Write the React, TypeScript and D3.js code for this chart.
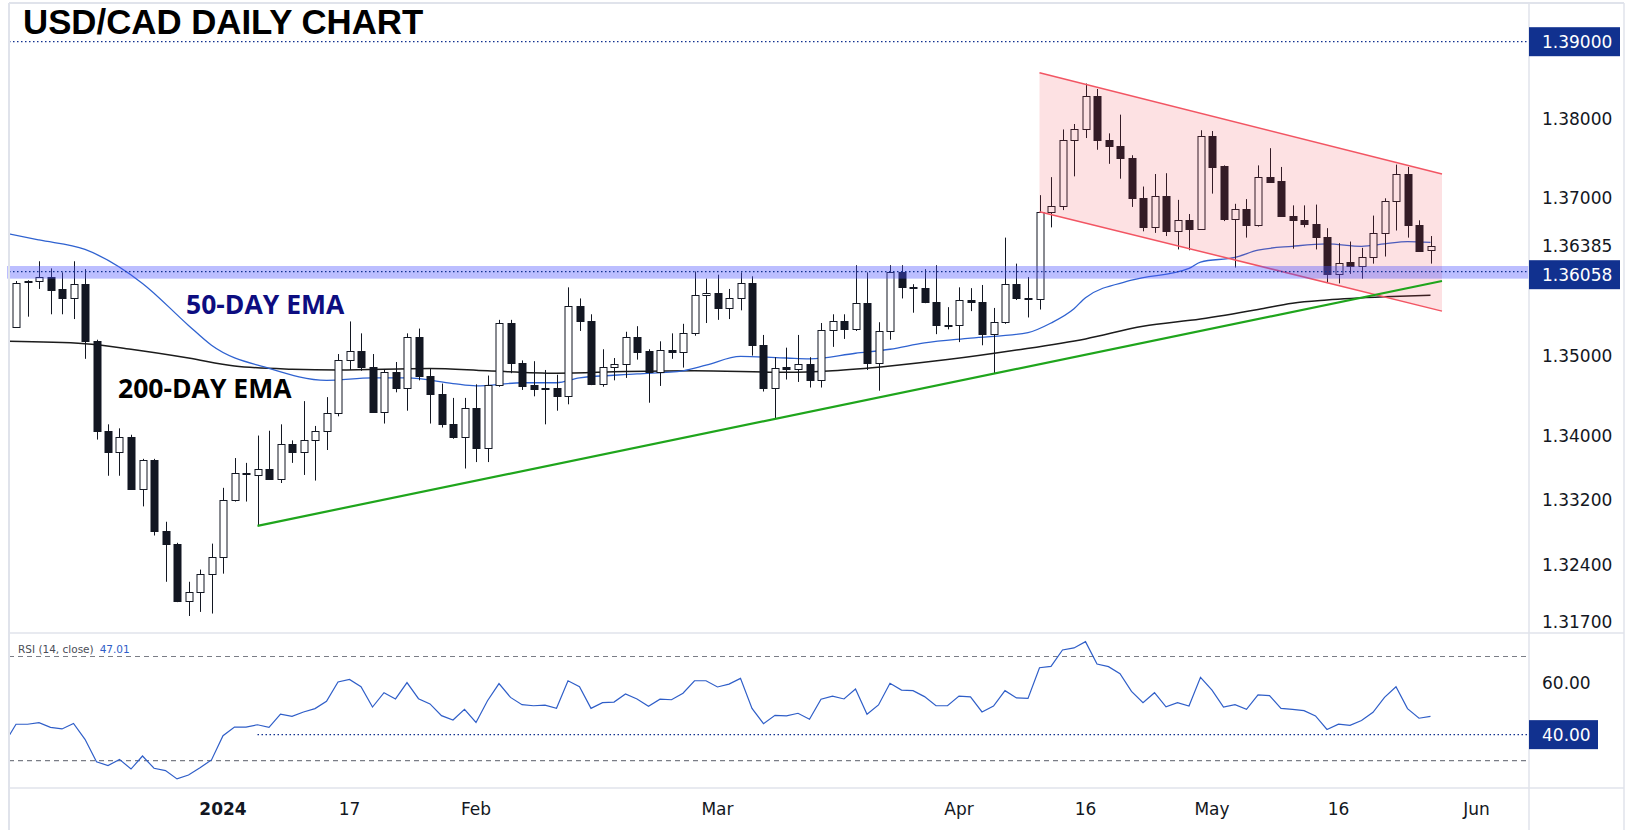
import React from 'react';
import * as d3 from 'd3';

// ---- values ----
const opens = [
  1.3536, 1.3593, 1.3594, 1.3599, 1.3584, 1.3573, 1.3590, 1.3518, 1.3406, 1.3380,
  1.3398, 1.3333, 1.3370, 1.3282, 1.3266, 1.3195, 1.3207, 1.3228, 1.3249, 1.3320,
  1.3354, 1.3351, 1.3359, 1.3346, 1.3390, 1.3380, 1.3394, 1.3406, 1.3428, 1.3495,
  1.3506, 1.3486, 1.3430, 1.3479, 1.3460, 1.3523, 1.3474, 1.3452, 1.3414, 1.3398,
  1.3434, 1.3385, 1.3463, 1.3541, 1.3491, 1.3463, 1.3458, 1.3460, 1.3450, 1.3563,
  1.3543, 1.3464, 1.3486, 1.3490, 1.3523, 1.3506, 1.3480, 1.3507, 1.3505, 1.3528,
  1.3576, 1.3579, 1.3560, 1.3573, 1.3592, 1.3513, 1.3459, 1.3486, 1.3483, 1.3490,
  1.3470, 1.3532, 1.3543, 1.3534, 1.3566, 1.3491, 1.3531, 1.3605, 1.3586, 1.3585,
  1.3567, 1.3539, 1.3538, 1.3570, 1.3567, 1.3527, 1.3542, 1.3590, 1.3572, 1.3571,
  1.3682, 1.3689, 1.3773, 1.3788, 1.3830, 1.3773, 1.3766, 1.3750, 1.3700, 1.3663,
  1.3702, 1.3657, 1.3671, 1.3660, 1.3779, 1.3740, 1.3673, 1.3686, 1.3665, 1.3726,
  1.3721, 1.3677, 1.3672, 1.3666, 1.3650, 1.3603, 1.3618, 1.3613, 1.3625, 1.3655,
  1.3695, 1.3730, 1.3665, 1.3633,
];
const highs = [
  1.3594, 1.3595, 1.3619, 1.3610, 1.3605, 1.3619, 1.3609, 1.3520, 1.3414, 1.3409,
  1.3401, 1.3371, 1.3371, 1.3293, 1.3267, 1.3219, 1.3234, 1.3266, 1.3335, 1.3372,
  1.3366, 1.3400, 1.3406, 1.3414, 1.3394, 1.3443, 1.3412, 1.3448, 1.3502, 1.3543,
  1.3528, 1.3502, 1.3483, 1.3492, 1.3528, 1.3534, 1.3484, 1.3465, 1.3447, 1.3447,
  1.3464, 1.3475, 1.3545, 1.3545, 1.3494, 1.3493, 1.3482, 1.3476, 1.3586, 1.3572,
  1.3552, 1.3508, 1.3497, 1.3530, 1.3537, 1.3508, 1.3518, 1.3528, 1.3540, 1.3606,
  1.3597, 1.3602, 1.3584, 1.3605, 1.3600, 1.3526, 1.3498, 1.3510, 1.3526, 1.3498,
  1.3541, 1.3552, 1.3552, 1.3614, 1.3605, 1.3542, 1.3614, 1.3614, 1.3590, 1.3609,
  1.3614, 1.3561, 1.3586, 1.3585, 1.3589, 1.3560, 1.3649, 1.3616, 1.3599, 1.3703,
  1.3726, 1.3787, 1.3794, 1.3846, 1.3839, 1.3782, 1.3806, 1.3754, 1.3714, 1.3730,
  1.3731, 1.3697, 1.3679, 1.3786, 1.3785, 1.3741, 1.3692, 1.3698, 1.3741, 1.3763,
  1.3739, 1.3690, 1.3690, 1.3691, 1.3661, 1.3642, 1.3644, 1.3636, 1.3677, 1.3699,
  1.3742, 1.3739, 1.3671, 1.3651,
];
const lows = [
  1.3535, 1.3549, 1.3584, 1.3552, 1.3552, 1.3546, 1.3496, 1.3395, 1.3350, 1.3350,
  1.3333, 1.3312, 1.3276, 1.3219, 1.3194, 1.3177, 1.3182, 1.3180, 1.3229, 1.3318,
  1.3318, 1.3288, 1.3345, 1.3341, 1.3366, 1.3351, 1.3344, 1.3382, 1.3424, 1.3482,
  1.3481, 1.3429, 1.3415, 1.3454, 1.3431, 1.3469, 1.3415, 1.3410, 1.3396, 1.3359,
  1.3367, 1.3367, 1.3461, 1.3478, 1.3457, 1.3449, 1.3414, 1.3431, 1.3439, 1.3531,
  1.3463, 1.3461, 1.3469, 1.3472, 1.3495, 1.3441, 1.3462, 1.3496, 1.3485, 1.3525,
  1.3541, 1.3545, 1.3546, 1.3557, 1.3500, 1.3455, 1.3421, 1.3470, 1.3467, 1.3460,
  1.3460, 1.3511, 1.3521, 1.3531, 1.3482, 1.3456, 1.3520, 1.3572, 1.3554, 1.3566,
  1.3527, 1.3533, 1.3517, 1.3556, 1.3513, 1.3478, 1.3540, 1.3570, 1.3548, 1.3558,
  1.3662, 1.3684, 1.3727, 1.3776, 1.3761, 1.3743, 1.3724, 1.3688, 1.3657, 1.3655,
  1.3651, 1.3634, 1.3633, 1.3659, 1.3705, 1.3670, 1.3611, 1.3649, 1.3663, 1.3720,
  1.3676, 1.3635, 1.3662, 1.3634, 1.3592, 1.3591, 1.3603, 1.3597, 1.3616, 1.3625,
  1.3658, 1.3649, 1.3631, 1.3616,
];
const closes = [
  1.3592, 1.3594, 1.3599, 1.3583, 1.3573, 1.3590, 1.3518, 1.3406, 1.3380, 1.3398,
  1.3333, 1.3370, 1.3282, 1.3266, 1.3195, 1.3207, 1.3228, 1.3249, 1.3320, 1.3353,
  1.3352, 1.3359, 1.3346, 1.3390, 1.3380, 1.3394, 1.3406, 1.3428, 1.3495, 1.3506,
  1.3486, 1.3430, 1.3479, 1.3460, 1.3523, 1.3474, 1.3452, 1.3414, 1.3398, 1.3434,
  1.3385, 1.3463, 1.3541, 1.3491, 1.3462, 1.3458, 1.3460, 1.3450, 1.3563, 1.3543,
  1.3464, 1.3486, 1.3490, 1.3523, 1.3505, 1.3480, 1.3507, 1.3505, 1.3528, 1.3576,
  1.3579, 1.3560, 1.3573, 1.3592, 1.3513, 1.3459, 1.3485, 1.3483, 1.3490, 1.3470,
  1.3532, 1.3543, 1.3534, 1.3566, 1.3491, 1.3531, 1.3605, 1.3586, 1.3585, 1.3567,
  1.3539, 1.3538, 1.3570, 1.3567, 1.3527, 1.3542, 1.3590, 1.3572, 1.3571, 1.3682,
  1.3689, 1.3773, 1.3788, 1.3830, 1.3773, 1.3766, 1.3750, 1.3700, 1.3663, 1.3702,
  1.3657, 1.3671, 1.3660, 1.3779, 1.3739, 1.3673, 1.3686, 1.3665, 1.3726, 1.3720,
  1.3677, 1.3672, 1.3666, 1.3650, 1.3603, 1.3617, 1.3613, 1.3625, 1.3655, 1.3695,
  1.3730, 1.3665, 1.3632, 1.36385,
];

// moving averages, read as [bar index, price]
const ema50: [number, number][] = [
  [-1, 1.3655], [2, 1.3646], [6, 1.3634], [11, 1.3591], [15, 1.3538], [17, 1.3513],
  [22, 1.3484], [27, 1.3469], [31, 1.3472], [34, 1.3472], [38, 1.3465], [40, 1.3462],
  [44, 1.3466], [47, 1.3466], [49, 1.3472], [54, 1.3477], [58, 1.3481], [60, 1.3488],
  [63, 1.3499], [67, 1.3497], [69, 1.3496], [73, 1.3503], [76, 1.3508], [79, 1.3516],
  [83, 1.3522], [88, 1.3529], [90, 1.3541], [92, 1.3559], [93, 1.3573], [97, 1.3595],
  [102, 1.3610], [103, 1.3618], [106, 1.3624], [108, 1.3633], [111, 1.3638], [114, 1.3641],
  [117, 1.3638], [119, 1.3641], [121, 1.3644], [123, 1.3643],
];
const ema200: [number, number][] = [
  [-1, 1.3518], [6, 1.3515], [10, 1.3508], [15, 1.3497], [19, 1.3487], [24, 1.3483],
  [28, 1.3482], [36, 1.3484], [41, 1.3481], [47, 1.3478], [53, 1.3480], [59, 1.3481],
  [67, 1.3479], [71, 1.3481], [76, 1.3487], [81, 1.3495], [87, 1.3507], [93, 1.3521],
  [98, 1.3537], [103, 1.3546], [108, 1.3558], [111, 1.3566], [114, 1.3570], [119, 1.3574],
  [123, 1.3576],
];

// RSI(14); the first value belongs to the bar just left of the first candle
const rsiValues = [
  36.7,
  44.0, 44.0, 44.6, 42.8, 42.2, 44.3, 38.2, 29.6, 28.1, 30.5,
  26.8, 31.8, 27.1, 26.2, 23.0, 24.5, 27.3, 30.3, 39.6, 42.9,
  42.9, 43.8, 42.8, 47.9, 47.0, 48.7, 50.0, 52.8, 60.2, 61.2,
  58.4, 50.6, 56.1, 53.7, 60.0, 53.8, 51.8, 47.3, 45.6, 49.7,
  44.7, 53.0, 59.6, 54.3, 51.5, 51.1, 51.3, 50.1, 60.7, 58.4,
  50.1, 52.3, 52.5, 55.6, 53.7, 50.9, 53.6, 53.4, 55.9, 60.7,
  60.7, 58.3, 59.4, 61.6, 50.1, 44.2, 47.4, 47.2, 48.2, 45.9,
  53.6, 54.8, 53.7, 57.5, 47.8, 51.4, 59.7, 57.1, 56.9, 54.6,
  51.1, 51.1, 54.8, 54.5, 48.7, 51.0, 56.9, 54.1, 53.9, 65.7,
  66.2, 72.5, 73.3, 75.7, 67.1, 66.1, 63.4, 56.6, 52.3, 56.1,
  50.7, 52.3, 51.0, 62.0, 57.1, 50.6, 51.5, 49.7, 55.3, 55.0,
  50.1, 49.7, 49.2, 47.2, 42.0, 44.0, 43.6, 45.4, 48.6, 54.3,
  58.4, 50.0, 46.3, 47.01,
];

const dateTicks = [
  { bar: 18, label: '2024', bold: true },
  { bar: 29, label: '17' },
  { bar: 40, label: 'Feb' },
  { bar: 61, label: 'Mar' },
  { bar: 82, label: 'Apr' },
  { bar: 93, label: '16' },
  { bar: 104, label: 'May' },
  { bar: 115, label: '16' },
  { bar: 127, label: 'Jun' },
];
const priceTicks = [1.38, 1.37, 1.35, 1.34, 1.332, 1.324, 1.317];
const lastClose = 1.36385;
const resistance = 1.39;
const support = 1.36058;
const supportBand = [1.3597, 1.3613];
const trendline: [number, number][] = [[21, 1.3288], [124, 1.3594]];
const channelTop: [number, number][] = [[89, 1.386], [124, 1.373]];
const channelBottom: [number, number][] = [[89, 1.3682], [124, 1.3556]];
const rsiGuides = [70, 30];
const rsiTick = 60;
const rsiLevel = 40;

// ---- layout ----
const W = 1634;
const H = 830;
const left = 9;
const right = 1529;
const top = 3;
const priceBottom = 633;
const rsiBottom = 788;
const axisRight = 1624;

const INK = '#131722';
const NAVY = '#11318f';
const axisFont = '"DejaVu Sans", sans-serif';
const boldFont = '"Open Sans", "Noto Sans", sans-serif';
const titleFont = '"Liberation Sans", Arial, sans-serif';

export default function App() {
  const x = d3.scaleLinear().domain([0, 123]).range([16, 1430.5]);
  const y = d3.scaleLog().domain([1.317, 1.39]).range([621.7, 41.7]);
  const ry = d3.scaleLinear().domain([30, 70]).range([760.7, 656.5]);
  const fmtPrice = d3.format('.5f');
  const fmtRsi = d3.format('.2f');

  const emaLine = d3
    .line<[number, number]>()
    .x((d) => x(d[0]))
    .y((d) => y(d[1]))
    .curve(d3.curveMonotoneX);

  const rsiLine = d3
    .line<number>()
    .x((_, i) => x(i - 1))
    .y((d) => ry(d));

  const chanPts = [
    [x(channelTop[0][0]), y(channelTop[0][1])],
    [x(channelTop[1][0]), y(channelTop[1][1])],
    [x(channelBottom[1][0]), y(channelBottom[1][1])],
    [x(channelBottom[0][0]), y(channelBottom[0][1])],
  ];

  const candles = opens.map((o, i) => {
    const c = closes[i];
    const cx = Math.round(x(i)) + 0.5;
    const up = c >= o;
    const yTop = Math.round(y(Math.max(o, c))) + 0.5;
    const yBot = Math.round(y(Math.min(o, c))) + 0.5;
    return (
      <g key={i}>
        <line x1={cx} x2={cx} y1={y(highs[i])} y2={y(lows[i])} stroke={INK} strokeWidth={1} />
        <rect
          x={cx - 3.5}
          y={yTop}
          width={7}
          height={Math.max(yBot - yTop, 1)}
          fill={up ? '#ffffff' : INK}
          stroke={INK}
          strokeWidth={1}
        />
      </g>
    );
  });

  const supportY = y(support);

  return (
    <svg
      width={W}
      height={H}
      style={{ position: 'absolute', left: 0, top: 0, background: '#fff' }}
    >
      <defs>
        <clipPath id="pricePane">
          <rect x={left} y={top} width={right - left} height={priceBottom - top} />
        </clipPath>
        <clipPath id="rsiPane">
          <rect x={left} y={priceBottom} width={right - left} height={rsiBottom - priceBottom} />
        </clipPath>
      </defs>

      {/* price pane */}
      <g clipPath="url(#pricePane)">
        <line
          x1={left}
          x2={right}
          y1={y(resistance)}
          y2={y(resistance)}
          stroke={NAVY}
          strokeWidth={1.2}
          strokeDasharray="1.5 2.5"
        />
        <path d={emaLine(ema200) || ''} fill="none" stroke="#1c1c1c" strokeWidth={1.5} />
        <path d={emaLine(ema50) || ''} fill="none" stroke="#2f62d0" strokeWidth={1.3} />
        {candles}
        <polygon
          points={chanPts.map((p) => p.join(',')).join(' ')}
          fill="rgba(242, 54, 69, 0.15)"
        />
        <line
          x1={chanPts[0][0]}
          y1={chanPts[0][1]}
          x2={chanPts[1][0]}
          y2={chanPts[1][1]}
          stroke="#f25563"
          strokeWidth={1.5}
        />
        <line
          x1={chanPts[3][0]}
          y1={chanPts[3][1]}
          x2={chanPts[2][0]}
          y2={chanPts[2][1]}
          stroke="#f25563"
          strokeWidth={1.5}
        />
        <line
          x1={x(trendline[0][0])}
          y1={y(trendline[0][1])}
          x2={x(trendline[1][0])}
          y2={y(trendline[1][1])}
          stroke="#1fa51c"
          strokeWidth={2.2}
        />
      </g>
      {/* support band spills just past the left frame */}
      <rect
        x={7}
        y={y(supportBand[1])}
        width={right - 7}
        height={y(supportBand[0]) - y(supportBand[1])}
        fill="rgba(80, 84, 255, 0.38)"
      />
      <line
        x1={left}
        x2={right}
        y1={supportY}
        y2={supportY}
        stroke={NAVY}
        strokeWidth={1.2}
        strokeDasharray="1.5 2.5"
      />

      {/* annotations */}
      <text x={23} y={33.5} fontFamily={titleFont} fontWeight={700} fontSize={34.8} fill="#000">
        USD/CAD DAILY CHART
      </text>
      <text x={186} y={314} fontFamily={boldFont} fontWeight={700} fontSize={26.5} fill="#0d0d80">
        50-DAY EMA
      </text>
      <text x={118} y={398} fontFamily={boldFont} fontWeight={700} fontSize={26.5} fill="#000">
        200-DAY EMA
      </text>

      {/* RSI pane */}
      <g clipPath="url(#rsiPane)">
        {rsiGuides.map((v) => (
          <line
            key={v}
            x1={left}
            x2={right}
            y1={ry(v)}
            y2={ry(v)}
            stroke="#7a7d86"
            strokeWidth={1.2}
            strokeDasharray="5 4"
          />
        ))}
        <line
          x1={x(trendline[0][0])}
          x2={right}
          y1={ry(rsiLevel)}
          y2={ry(rsiLevel)}
          stroke={NAVY}
          strokeWidth={1.2}
          strokeDasharray="1.5 2.5"
        />
        <path d={rsiLine(rsiValues) || ''} fill="none" stroke="#2f5ec8" strokeWidth={1.2} />
      </g>
      <text x={18} y={649} dominantBaseline="central" fontFamily={axisFont} fontSize={10.5} fill="#4a4d57">
        RSI (14, close)
        <tspan dx={6} fill="#2f5ec8">
          {fmtRsi(rsiValues[rsiValues.length - 1])}
        </tspan>
      </text>

      {/* frame */}
      <g fill="none" stroke="#e0e3eb">
        <line x1={left} x2={axisRight} y1={top} y2={top} strokeWidth={2} />
        <line x1={left} x2={left} y1={top} y2={H} strokeWidth={2} />
        <line x1={left} x2={axisRight} y1={priceBottom} y2={priceBottom} strokeWidth={1.5} />
        <line x1={left} x2={axisRight} y1={rsiBottom} y2={rsiBottom} strokeWidth={1.5} />
        <line x1={right} x2={right} y1={top} y2={H} strokeWidth={1.5} />
        <line x1={axisRight} x2={axisRight} y1={top} y2={H} strokeWidth={1.5} />
      </g>

      {/* price axis */}
      <g fontFamily={axisFont} fontSize={17} fill={INK}>
        {priceTicks.map((p) => (
          <text key={p} x={1542} y={y(p)} dominantBaseline="central">
            {fmtPrice(p)}
          </text>
        ))}
        <text x={1542} y={y(lastClose)} dominantBaseline="central">
          {fmtPrice(lastClose)}
        </text>
        <rect x={right} y={y(resistance) - 14.5} width={91} height={29} fill={NAVY} />
        <text x={1542} y={y(resistance)} dominantBaseline="central" fill="#fff">
          {fmtPrice(resistance)}
        </text>
        <rect x={right} y={supportY + 3 - 14.5} width={91} height={29} fill={NAVY} />
        <text x={1542} y={supportY + 3} dominantBaseline="central" fill="#fff">
          {fmtPrice(support)}
        </text>
      </g>

      {/* RSI axis */}
      <g fontFamily={axisFont} fontSize={17} fill={INK}>
        <text x={1542} y={ry(rsiTick)} dominantBaseline="central">
          {fmtRsi(rsiTick)}
        </text>
        <rect x={right} y={ry(rsiLevel) - 14.5} width={69} height={29} fill={NAVY} />
        <text x={1542} y={ry(rsiLevel)} dominantBaseline="central" fill="#fff">
          {fmtRsi(rsiLevel)}
        </text>
      </g>

      {/* time axis */}
      <g fontFamily={axisFont} fontSize={17} fill={INK} textAnchor="middle">
        {dateTicks.map((t) => (
          <text
            key={t.bar + t.label}
            x={x(t.bar)}
            y={809}
            dominantBaseline="central"
            fontWeight={t.bold ? 700 : 400}
          >
            {t.label}
          </text>
        ))}
      </g>
    </svg>
  );
}
